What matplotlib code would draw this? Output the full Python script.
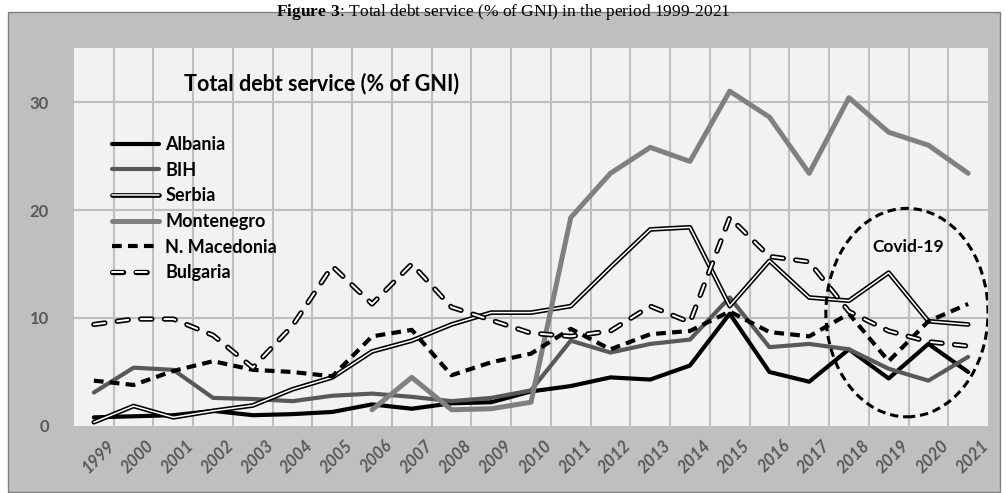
import matplotlib
matplotlib.use("Agg")
import matplotlib.pyplot as plt
import matplotlib.patheffects as pe
import matplotlib.transforms as mtransforms
from matplotlib.patches import Ellipse, Rectangle

plt.rcParams['font.family'] = ['Lato', 'DejaVu Sans']
plt.rcParams['lines.scale_dashes'] = False
plt.rcParams['mathtext.fontset'] = 'custom'
plt.rcParams['mathtext.rm'] = 'Liberation Serif'
plt.rcParams['mathtext.bf'] = 'Liberation Serif:bold'

years = [str(y) for y in range(1999, 2022)]

albania = [0.8, 0.9, 1.0, 1.4, 1.0, 1.1, 1.3, 2.0, 1.6, 2.1, 2.2, 3.2, 3.7, 4.5, 4.3, 5.6,
           10.4, 5.0, 4.1, 7.1, 4.4, 7.6, 5.0]
bih = [3.1, 5.4, 5.2, 2.6, 2.5, 2.3, 2.8, 3.0, 2.7, 2.3, 2.6, 3.3, 7.9, 6.8, 7.6, 8.0,
       11.9, 7.3, 7.6, 7.1, 5.3, 4.2, 6.4]
serbia = [0.35, 1.85, 0.8, 1.4, 1.9, 3.4, 4.5, 6.9, 7.9, 9.4, 10.5, 10.5, 11.1, 14.7, 18.2, 18.4,
          11.1, 15.3, 11.9, 11.6, 14.2, 9.7, 9.4]
# no data for Montenegro before 2006
montenegro = [None] * 7 + [1.5, 4.5, 1.5, 1.6, 2.2, 19.3, 23.4, 25.8, 24.5, 31.0, 28.6,
                           23.4, 30.4, 27.2, 26.0, 23.4]
macedonia = [4.2, 3.8, 5.1, 6.0, 5.2, 5.0, 4.6, 8.3, 8.9, 4.7, 5.9, 6.7, 9.0, 7.1, 8.5, 8.8,
             10.6, 8.7, 8.3, 10.4, 6.0, 9.7, 11.3]
bulgaria = [9.4, 9.9, 9.9, 8.4, 5.4, 9.3, 14.8, 11.3, 15.0, 11.0, 9.8, 8.6, 8.3, 8.8, 11.1, 9.6,
            19.3, 15.7, 15.2, 10.6, 8.8, 7.8, 7.4]

x = list(range(len(years)))
mx = [i for i, v in zip(x, montenegro) if v is not None]
my = [v for v in montenegro if v is not None]

fig = plt.figure(figsize=(10.06, 4.93), dpi=100)
fig.patch.set_facecolor('white')
fig.patches.append(Rectangle((8 / 1006, 1 - 492 / 493), 992 / 1006, 480 / 493,
                             transform=fig.transFigure, facecolor='#bfbfbf',
                             edgecolor='#808080', linewidth=1, zorder=-1))
fig.text(0.5, 1 - 1.5 / 493, r'$\mathbf{Figure\ 3}$: Total debt service (% of GNI) in the period 1999-2021',
         ha='center', va='top', fontsize=12.5, family='Liberation Serif')

ax = fig.add_axes([74 / 1006, 1 - 426 / 493, 914 / 1006, 378 / 493])
ax.set_facecolor('#f2f2f2')
for s in ax.spines.values():
    s.set_visible(False)

ax.set_xlim(-0.5, len(years) - 0.5)
ax.set_ylim(0, 35)
ax.set_yticks([0, 10, 20, 30])
ax.set_xticks(x)
ax.set_xticklabels(years, rotation=45, ha='right', rotation_mode='anchor')
ax.tick_params(axis='both', length=0, colors='#595959')
ax.tick_params(axis='y', labelsize=12, pad=18)
ax.tick_params(axis='x', labelsize=12, pad=8)
shift = mtransforms.ScaledTranslation(9 / 72, 0, fig.dpi_scale_trans)
for lab in ax.get_yticklabels():
    lab.set_fontweight('bold')
for lab in ax.get_xticklabels():
    lab.set_fontweight('bold')
    lab.set_fontstyle('italic')
    lab.set_transform(lab.get_transform() + shift)

for b in [i + 0.5 for i in x[:-1]]:
    ax.axvline(b, color='#bfbfbf', lw=1.5, zorder=0)
for g in [10, 20, 30]:
    ax.axhline(g, color='#bfbfbf', lw=1.5, zorder=0)

common = dict(solid_joinstyle='round', solid_capstyle='round')
ax.plot(x, albania, color='black', lw=3, label='Albania', **common)
ax.plot(x, bih, color='#595959', lw=3, label='BIH', **common)
ax.plot(x, serbia, color='white', lw=1.1, label='Serbia',
        path_effects=[pe.Stroke(linewidth=3.4, foreground='black'), pe.Normal()], **common)
ax.plot(mx, my, color='#808080', lw=3.6, label='Montenegro', **common)
ax.plot(x, macedonia, color='black', lw=3, dashes=(7, 4.5), label='N. Macedonia',
        dash_capstyle='butt', dash_joinstyle='round')
ax.plot(x, bulgaria, color='white', lw=1.4, dashes=(8, 9), label='Bulgaria',
        dash_capstyle='round', dash_joinstyle='round',
        path_effects=[pe.Stroke(linewidth=3.8, foreground='black', capstyle='round'), pe.Normal()])

ax.text(0.12, 0.906, 'Total debt service (% of GNI)', transform=ax.transAxes,
        fontsize=15.5, fontweight='bold', ha='left', va='center')

covid = Ellipse((20.46, 10.5), 4.08, 19.3, fill=False, edgecolor='black', lw=2.2,
                linestyle=(0, (6, 3.5)), zorder=5)
ax.add_patch(covid)
ax.text(20.5, 16.6, 'Covid-19', ha='center', va='center', fontsize=12.5, fontweight='bold')

leg = ax.legend(loc='upper left', bbox_to_anchor=(0.0416, 0.767), frameon=False,
                borderpad=0, borderaxespad=0, handlelength=2.6, handletextpad=0.35,
                labelspacing=0.48, prop={'size': 13, 'weight': 'bold'})

fig.savefig('out.png', dpi=100)
